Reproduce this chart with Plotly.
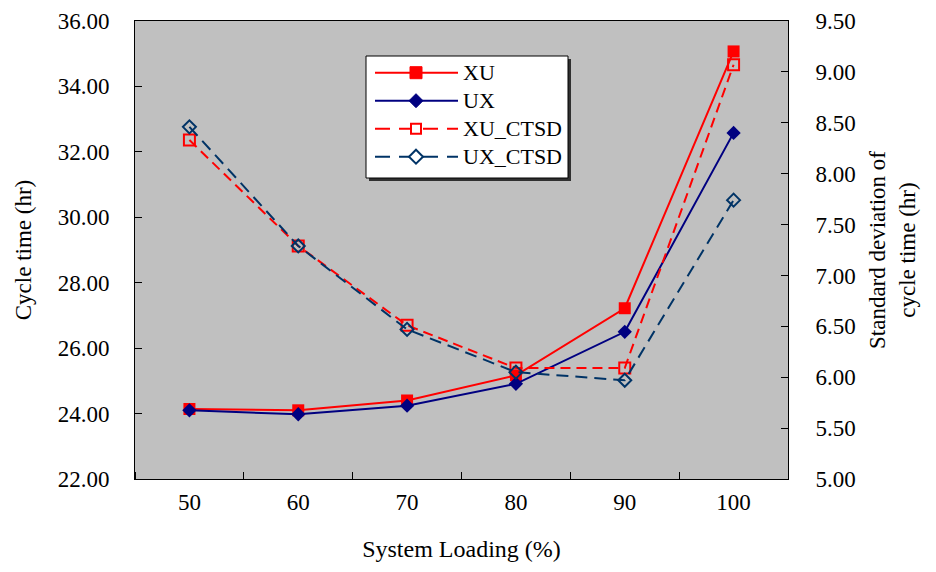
import plotly.graph_objects as go

loading = [50, 60, 70, 80, 90, 100]
xu = [24.14, 24.10, 24.40, 25.17, 27.22, 35.07]
ux = [24.10, 23.98, 24.24, 24.91, 26.50, 32.58]
xu_ctsd = [8.33, 7.29, 6.51, 6.09, 6.09, 9.07]
ux_ctsd = [8.46, 7.29, 6.47, 6.05, 5.97, 7.74]

series_names = ["XU", "UX", "XU_CTSD", "UX_CTSD"]

FONT = "Liberation Serif"
RED = "#FF0000"
NAVY = "#000080"
STEEL = "#003366"

fig = go.Figure()
fig.add_trace(go.Scatter(x=loading, y=xu, name=series_names[0], mode="lines+markers",
                         line=dict(color=RED, width=2),
                         marker=dict(symbol="square", size=12, color=RED)))
fig.add_trace(go.Scatter(x=loading, y=ux, name=series_names[1], mode="lines+markers",
                         line=dict(color=NAVY, width=2),
                         marker=dict(symbol="diamond", size=11, color=NAVY)))
fig.add_trace(go.Scatter(x=loading, y=xu_ctsd, name=series_names[2], mode="lines+markers", yaxis="y2",
                         line=dict(color=RED, width=2, dash="10px,6px"),
                         marker=dict(symbol="square-open", size=11, color=RED, line=dict(width=2))))
fig.add_trace(go.Scatter(x=loading, y=ux_ctsd, name=series_names[3], mode="lines+markers", yaxis="y2",
                         line=dict(color=STEEL, width=2, dash="12px,7px"),
                         marker=dict(symbol="diamond-open", size=10, color=STEEL, line=dict(width=2))))

# ---- custom legend (decoration, in paper coordinates) ----
PX0, PW, PY0, PH = 135.0, 653.0, 21.0, 458.0
def px(x):
    return (x - PX0) / PW
def py(y):
    return (PY0 + PH - y) / PH

shapes = []
annotations = []
shapes.append(dict(type="rect", xref="paper", yref="paper", layer="above",
                   x0=px(369), x1=px(571), y0=py(181), y1=py(59),
                   fillcolor="#303030", line=dict(width=0)))
shapes.append(dict(type="rect", xref="paper", yref="paper", layer="above",
                   x0=px(366), x1=px(568), y0=py(178), y1=py(56),
                   fillcolor="white", line=dict(color="black", width=1)))

rows = [72.7, 100.7, 128.7, 156.7]
styles = [
    (RED, "solid", "square", True),
    (NAVY, "solid", "diamond", True),
    (RED, "15px,9px", "square", False),
    (STEEL, "15px,9px", "diamond", False),
]
for name, ry, (col, dash, sym, filled) in zip(series_names, rows, styles):
    shapes.append(dict(type="line", xref="paper", yref="paper", layer="above",
                       x0=px(375), x1=px(458), y0=py(ry), y1=py(ry),
                       line=dict(color=col, width=2, dash=dash)))
    cx = 416.0
    if sym == "square":
        s = 6.0 if filled else 5.0
        path = (f"M {px(cx-s)},{py(ry-s)} L {px(cx+s)},{py(ry-s)} "
                f"L {px(cx+s)},{py(ry+s)} L {px(cx-s)},{py(ry+s)} Z")
    else:
        s = 7.0
        path = (f"M {px(cx)},{py(ry-s)} L {px(cx+s)},{py(ry)} "
                f"L {px(cx)},{py(ry+s)} L {px(cx-s)},{py(ry)} Z")
    shapes.append(dict(type="path", xref="paper", yref="paper", layer="above", path=path,
                       fillcolor=col if filled else "white",
                       line=dict(color=col, width=1 if filled else 2)))
    annotations.append(dict(xref="paper", yref="paper", x=px(461), y=py(ry),
                            xanchor="left", yanchor="middle", showarrow=False,
                            text=name, font=dict(family=FONT, size=22, color="black")))

fig.update_layout(
    width=936, height=572,
    margin=dict(l=127, r=156, t=13, b=101),
    paper_bgcolor="white", plot_bgcolor="#C0C0C0",
    font=dict(family=FONT, size=23, color="black"),
    showlegend=False,
    shapes=shapes,
    annotations=annotations,
    xaxis=dict(range=[45, 105], tickvals=loading, ticktext=[str(v) for v in loading],
               ticks="", showgrid=False, zeroline=False, showline=True, mirror=True,
               linecolor="black", linewidth=1, automargin=False,
               minor=dict(tick0=55, dtick=10, ticks="inside", ticklen=7, tickcolor="black", showgrid=False),
               title=dict(text="System Loading (%)", standoff=26, font=dict(size=24)),
               ticklabelstandoff=2),
    yaxis=dict(range=[22, 36], dtick=2, tickformat=".2f", ticks="inside", ticklen=7,
               tickcolor="black", showgrid=False, zeroline=False, showline=True,
               linecolor="black", linewidth=1, automargin=False,
               title=dict(text="Cycle time (hr)", standoff=19, font=dict(size=23)),
               ticklabelstandoff=20),
    yaxis2=dict(range=[5, 9.5], dtick=0.5, tickformat=".2f", ticks="inside", ticklen=7,
                tickcolor="black", showgrid=False, zeroline=False, showline=True,
                linecolor="black", linewidth=1, overlaying="y", side="right", automargin=False,
                title=dict(text="Standard deviation of<br>cycle time (hr)", standoff=14,
                           font=dict(size=23)), ticklabelstandoff=22),
)

fig.write_html("out.html")
